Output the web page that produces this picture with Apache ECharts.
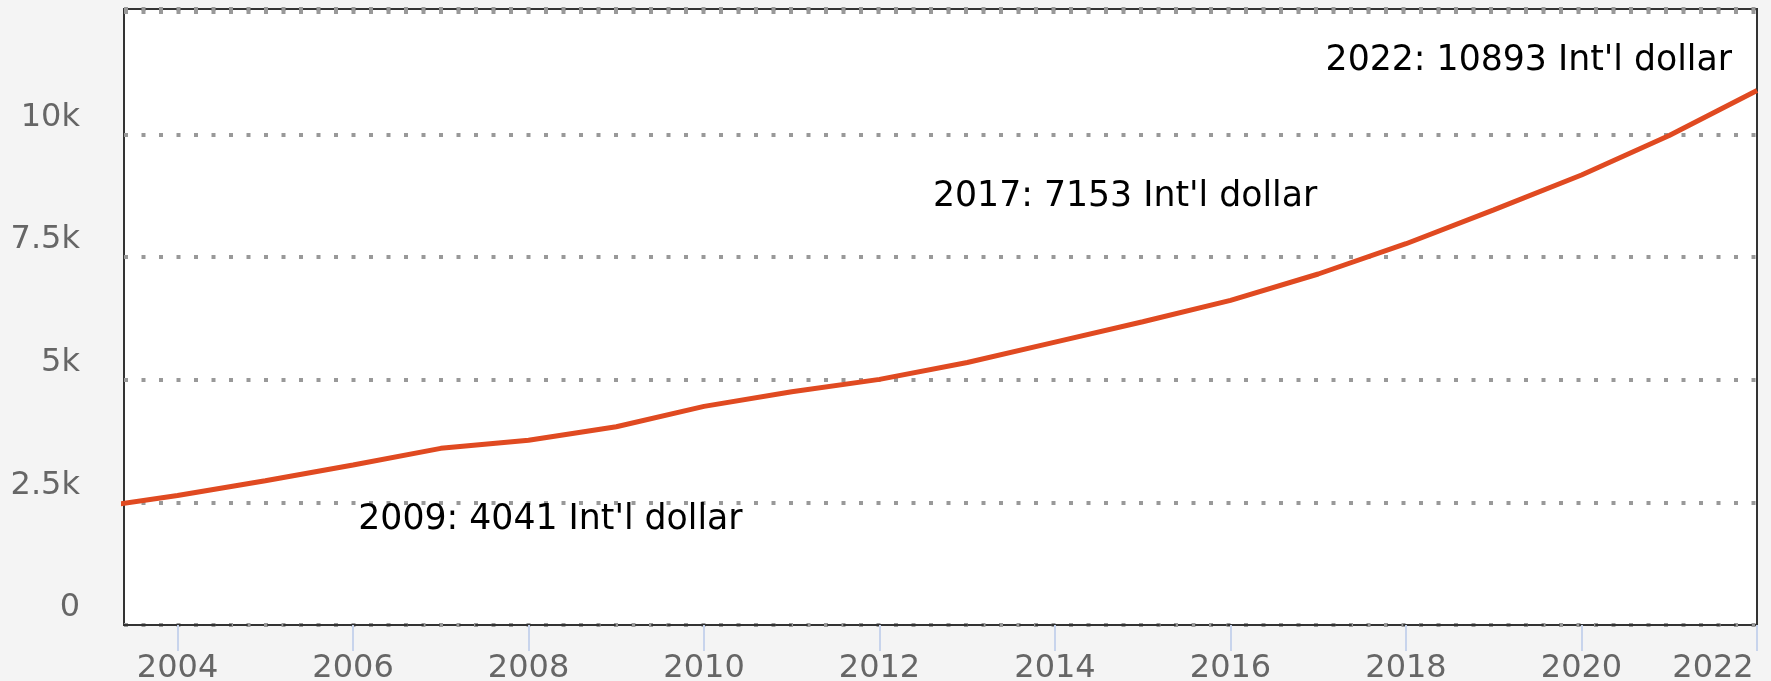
<!DOCTYPE html>
<html>
<head>
<meta charset="utf-8">
<title>GDP per capita, PPP</title>
<script src="https://cdn.jsdelivr.net/npm/echarts@6.0.0/dist/echarts.min.js"></script>
<style>
	html, body { margin: 0; padding: 0; background: #f4f4f4; }
	#chart { width: 1771px; height: 681px; }
</style>
</head>
<body>
<div id="chart"></div>
<script>
// values, Int'l dollar per year
const years = [2003, 2004, 2005, 2006, 2007, 2008, 2009, 2010, 2011, 2012,
	2013, 2014, 2015, 2016, 2017, 2018, 2019, 2020, 2021, 2022];
const values = [2380, 2640, 2940, 3260, 3600, 3765, 4041, 4455, 4755, 5005,
	5350, 5765, 6180, 6615, 7153, 7770, 8460, 9170, 9975, 10893];
const xTicks = [2004, 2006, 2008, 2010, 2012, 2014, 2016, 2018, 2020, 2022];
const yTicks = [0, 2500, 5000, 7500, 10000];
const noteYears = [2009, 2017, 2022];
const unit = "Int'l dollar";

const FONT = 'DejaVu Sans';

function yLabel(v){
	if(yTicks.indexOf(v) == -1) return '';
	return v == 0 ? '0' : (v / 1000) + 'k';
}

// label placement for each note, relative to its point
const noteStyle = {
	2009: { align: 'left', offset: [-258, 93] },
	2017: { align: 'right', offset: [-1, -77] },
	2022: { align: 'right', offset: [-25, -29] }
};

function notePoints(){
	return noteYears.map((yr)=>{
		let v = values[years.indexOf(yr)];
		let st = noteStyle[yr];
		return {
			coord: [yr, v],
			value: v,
			label: {
				show: true,
				position: 'inside',
				align: st.align,
				verticalAlign: 'middle',
				offset: st.offset,
				formatter: yr + ': ' + v + ' ' + unit
			}
		};
	});
}

const chart = echarts.init(document.getElementById('chart'));
chart.setOption({
	backgroundColor: '#f4f4f4',
	animation: false,
	grid: {
		left: 124,
		right: 14,
		top: 9,
		bottom: 56,
		outerBoundsMode: 'none',
		containLabel: false,
		show: true,
		backgroundColor: '#fff',
		borderColor: '#333',
		borderWidth: 2
	},
	xAxis: {
		type: 'value',
		min: 2003.39,
		max: 2022,
		axisLine: {
			show: true,
			lineStyle: { color: '#333', width: 2, type: [11, 5] }
		},
		axisTick: {
			show: true,
			customValues: xTicks,
			length: 26,
			lineStyle: { color: '#c8d4ec', width: 2 }
		},
		axisLabel: {
			customValues: xTicks,
			margin: 28,
			fontFamily: FONT,
			fontSize: 32,
			color: '#666',
			formatter: (v)=> v == 2022 ? '{r|2022}' : '{n|' + v + '}',
			rich: {
				n: { fontFamily: FONT, fontSize: 32, color: '#666' },
				r: { fontFamily: FONT, fontSize: 32, color: '#666', padding: [0, 88, 0, 0] }
			}
		},
		splitLine: { show: false }
	},
	yAxis: {
		type: 'value',
		min: 0,
		max: 12553,
		interval: 2500,
		axisLine: { show: false },
		axisTick: { show: false },
		axisLabel: {
			margin: 44,
			fontFamily: FONT,
			fontSize: 32,
			color: '#666',
			verticalAlign: 'bottom',
			lineHeight: 34,
			formatter: yLabel
		},
		splitLine: {
			show: true,
			lineStyle: { color: '#999', width: 4, type: [4, 13.5] }
		}
	},
	series: [{
		type: 'line',
		data: years.map((yr, i)=> [yr, values[i]]),
		showSymbol: false,
		clip: true,
		lineStyle: { color: '#e04a21', width: 5 },
		markPoint: {
			symbol: 'circle',
			symbolSize: 0,
			label: {
				fontFamily: FONT,
				fontSize: 34.7,
				color: '#000'
			},
			data: notePoints()
		}
	}]
});
</script>
</body>
</html>
